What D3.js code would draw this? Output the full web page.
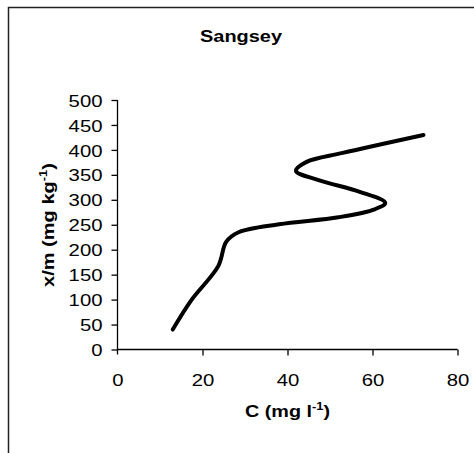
<!DOCTYPE html>
<html>
<head>
<meta charset="utf-8">
<script src="https://cdn.jsdelivr.net/npm/d3@7"></script>
<style>
  body { margin: 0; background: #fff; }
  text { font-family: "Liberation Sans", Arial, sans-serif; fill: #000; }
</style>
</head>
<body>
<div id="chart"></div>
<script>
const W = 474, H = 453;

// isotherm curve
const concC = [13, 17.3, 23.7, 25.6, 28.5, 38, 52, 60.5, 63, 57, 47.5, 42, 44.5, 53, 72];
const sorbed = [40, 98, 167, 216, 235, 251, 265, 281, 294, 316, 339, 358, 376, 394, 430];

const xTicks = [0, 20, 40, 60, 80];
const yTicks = [0, 50, 100, 150, 200, 250, 300, 350, 400, 450, 500];

const chartTitle = "Sangsey";

const svg = d3.select("#chart").append("svg")
    .attr("width", W)
    .attr("height", H);

svg.append("rect").attr("width", W).attr("height", H).attr("fill", "#fff");

// outer chart frame (only top and left show inside the picture)
svg.append("path")
    .attr("d", `M8.5,${H + 2} V7.5 H${W + 2}`)
    .attr("fill", "none")
    .attr("stroke", "#222")
    .attr("stroke-width", 1.5);

const x = d3.scaleLinear().domain([0, 80]).range([117.5, 457.5]);
const y = d3.scaleLinear().domain([0, 500]).range([349.5, 100]);

// y axis
const gy = svg.append("g")
    .attr("transform", `translate(${x(0)},0)`)
    .call(d3.axisLeft(y).tickValues(yTicks).tickSize(6).tickSizeOuter(0));
gy.select(".domain").attr("d", `M0,${y(500)}V${y(0) + 5}`);
gy.selectAll(".tick text")
    .attr("x", -15)
    .attr("dy", "0.36em")
    .style("font-size", "17px")
    .attr("textLength", d => String(d).length * 11.3)
    .attr("lengthAdjust", "spacingAndGlyphs");

// x axis
const gx = svg.append("g")
    .attr("transform", `translate(0,${y(0)})`)
    .call(d3.axisBottom(x).tickValues(xTicks).tickSize(6).tickSizeOuter(0));
gx.select(".domain").attr("d", `M${x(0)},0H${x(80)}`);
gx.selectAll(".tick line").filter(d => d === 0).remove();
gx.selectAll(".tick text")
    .attr("y", 0)
    .attr("dy", "36px")
    .style("font-size", "17px")
    .attr("textLength", d => String(d).length * 11.3)
    .attr("lengthAdjust", "spacingAndGlyphs");

svg.selectAll(".domain, .tick line").attr("stroke", "#000").attr("stroke-width", 1.3);
svg.selectAll(".tick text").attr("fill", "#000");

// title
svg.append("text")
    .attr("x", 241)
    .attr("y", 42)
    .attr("text-anchor", "middle")
    .style("font-size", "17px")
    .style("font-weight", "bold")
    .attr("textLength", 82)
    .attr("lengthAdjust", "spacingAndGlyphs")
    .text(chartTitle);

// x axis title with superscript
const xt = svg.append("text")
    .attr("x", 287.5)
    .attr("y", 417)
    .attr("text-anchor", "middle")
    .style("font-size", "17px")
    .style("font-weight", "bold")
    .attr("textLength", 85)
    .attr("lengthAdjust", "spacingAndGlyphs");
xt.append("tspan").text("C (mg l");
xt.append("tspan").attr("dy", -7).style("font-size", "11px").text("-1");
xt.append("tspan").attr("dy", 7).text(")");

// y axis title with superscript
const yt = svg.append("text")
    .attr("transform", "translate(54,225) rotate(-90)")
    .attr("text-anchor", "middle")
    .style("font-size", "17px")
    .style("font-weight", "bold")
    .attr("textLength", 124)
    .attr("lengthAdjust", "spacingAndGlyphs");
yt.append("tspan").text("x/m (mg kg");
yt.append("tspan").attr("dy", -7).style("font-size", "11px").text("-1");
yt.append("tspan").attr("dy", 7).text(")");

// the curve
const pts = concC.map((c, i) => [c, sorbed[i]]);
const line = d3.line()
    .x(d => x(d[0]))
    .y(d => y(d[1]))
    .curve(d3.curveCatmullRom.alpha(0.5));

svg.append("path")
    .datum(pts)
    .attr("d", line)
    .attr("fill", "none")
    .attr("stroke", "#000")
    .attr("stroke-width", 4)
    .attr("stroke-linecap", "round")
    .attr("stroke-linejoin", "round");
</script>
</body>
</html>
